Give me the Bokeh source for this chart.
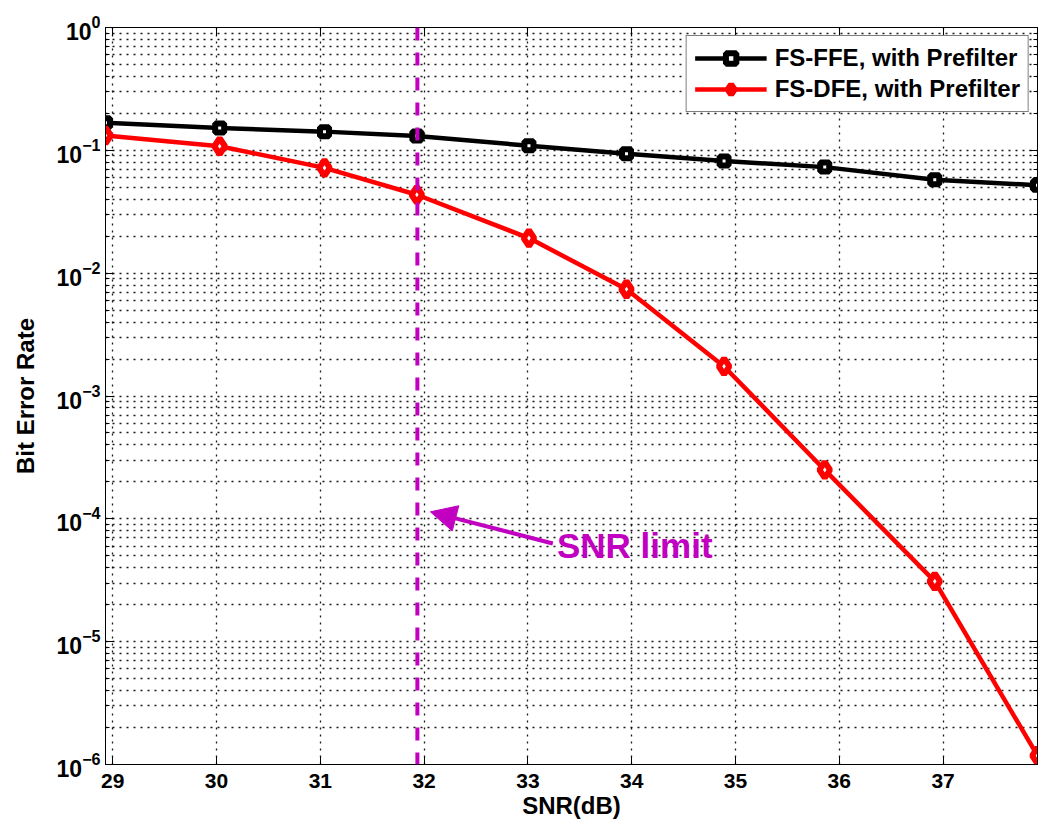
from bokeh.plotting import figure
from bokeh.models import FixedTicker, LinearAxis, Arrow, NormalHead, Span, Legend, LegendItem, Range1d
from bokeh.embed import file_html
from bokeh.resources import INLINE
from bokeh.core.properties import value

# ---- data ----
snr = [28.93, 30.03, 31.04, 31.93, 33.01, 33.95, 34.89, 35.86, 36.92, 37.91]
ber_ffe = [0.168, 0.152, 0.142, 0.131, 0.109, 0.094, 0.082, 0.073, 0.0575, 0.052]
ber_dfe = [0.132, 0.108, 0.072, 0.0435, 0.0193, 0.0074, 1.74e-3, 2.5e-4, 3.1e-5, 1.18e-6]
x_ticks = [29, 30, 31, 32, 33, 34, 35, 36, 37]
y_ticks = [1e-6, 1e-5, 1e-4, 1e-3, 1e-2, 1e-1, 1e0]
y_minor = [m * 10.0 ** e for e in range(-6, 0) for m in range(2, 10)]
snr_limit = 31.935
note_text = "SNR limit"
note_xy = (33.28, 6.1e-5)
arrow_from = (33.24, 6.3e-5)
arrow_to = (32.06, 1.14e-4)

FONT = "Liberation Sans"
MAG = "#C200C2"

p = figure(frame_width=932, frame_height=737, y_axis_type="log",
           x_range=Range1d(snr[0], snr[-1]), y_range=Range1d(1e-6, 1.0),
           output_backend="svg", toolbar_location=None,
           min_border_left=105, min_border_right=11, min_border_top=27, min_border_bottom=58,
           background_fill_color="white", border_fill_color="white")

p.outline_line_color = "black"
p.outline_line_width = 1

def style_axis(ax, labels=True):
    ax.axis_line_color = "black"
    ax.axis_line_width = 1
    ax.major_tick_in = 8
    ax.major_tick_out = 0
    ax.minor_tick_in = 4
    ax.minor_tick_out = 0
    ax.major_tick_line_color = "black"
    ax.minor_tick_line_color = "black"
    ax.major_label_text_font = FONT
    ax.major_label_text_font_style = "bold"
    ax.major_label_text_color = "black"
    ax.major_label_text_font_size = "21px"
    ax.axis_label_text_font = FONT
    ax.axis_label_text_font_size = "24px"
    ax.axis_label_text_font_style = "bold"
    ax.axis_label_text_color = "black"
    if not labels:
        ax.major_label_text_font_size = "1px"
        ax.major_label_text_color = None
        ax.major_label_standoff = 0

p.xaxis.ticker = FixedTicker(ticks=x_ticks)
p.yaxis.ticker = FixedTicker(ticks=y_ticks, minor_ticks=y_minor)
style_axis(p.xaxis[0])
style_axis(p.yaxis[0])
p.yaxis.major_label_text_font_size = "23px"
p.xaxis.axis_label = "SNR(dB)"
p.yaxis.axis_label = "Bit Error Rate"
p.xaxis.major_label_standoff = 9
p.xaxis.axis_label_standoff = 1
p.yaxis.major_label_standoff = 5
p.yaxis.axis_label_standoff = 15

top = LinearAxis(ticker=FixedTicker(ticks=x_ticks))
style_axis(top, labels=False)
right = LinearAxis(ticker=FixedTicker(ticks=y_ticks, minor_ticks=y_minor))
style_axis(right, labels=False)
p.add_layout(top, "above")
p.add_layout(right, "right")

for g in (p.xgrid[0], p.ygrid[0]):
    g.grid_line_color = "black"
    g.grid_line_alpha = 0.9
    g.grid_line_dash = "2 5"
    g.grid_line_width = 1.3
p.ygrid[0].minor_grid_line_color = "black"
p.ygrid[0].minor_grid_line_alpha = 0.9
p.ygrid[0].minor_grid_line_width = 1.3
p.ygrid[0].minor_grid_line_dash = "2 5"

l1 = p.line(snr, ber_ffe, line_color="black", line_width=4.5)
s1 = p.scatter(snr, ber_ffe, marker="square", size=9, line_color="black",
               fill_color="white", line_width=6)
l2 = p.line(snr, ber_dfe, line_color="#FF0000", line_width=4.5)
s2 = p.scatter(snr, ber_dfe, marker="diamond", size=16, line_color="#FF0000",
               fill_color="white", line_width=6)

vline = Span(location=snr_limit, dimension="height", line_color=MAG,
             line_width=4, line_dash="13 12")
p.add_layout(vline)

p.add_layout(Arrow(x_start=arrow_from[0], y_start=arrow_from[1],
                   x_end=arrow_to[0], y_end=arrow_to[1],
                   line_color=MAG, line_width=4,
                   end=NormalHead(size=26, fill_color=MAG, line_color=MAG)))

p.text(x=[note_xy[0]], y=[note_xy[1]], text=[note_text], text_color=MAG,
       text_font=value(FONT), text_font_style="bold", text_font_size="35px",
       text_baseline="alphabetic", text_align="left")

legend = Legend(items=[LegendItem(label="FS-FFE, with Prefilter", renderers=[l1, s1]),
                       LegendItem(label="FS-DFE, with Prefilter", renderers=[l2, s2])],
                location="top_right")
legend.border_line_color = "black"
legend.border_line_width = 1
legend.background_fill_color = "white"
legend.background_fill_alpha = 1.0
legend.label_text_font = FONT
legend.label_text_font_style = "bold"
legend.label_text_font_size = "24px"
legend.label_text_color = "black"
legend.glyph_width = 72
legend.glyph_height = 26
legend.label_standoff = 8
legend.spacing = 3
legend.padding = 8
legend.margin = 8
p.add_layout(legend, "center")

open("out.html", "w").write(file_html(p, INLINE))
